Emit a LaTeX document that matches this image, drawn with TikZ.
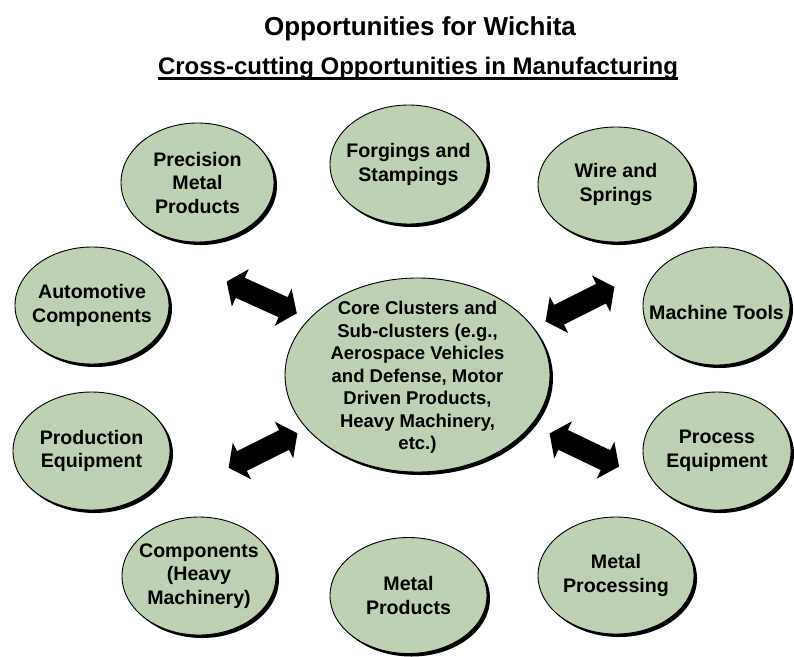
\documentclass[tikz,border=0pt]{standalone}
\usepackage{fontspec}
\setmainfont{Liberation Sans}
\usetikzlibrary{shapes.geometric,shadows}
\definecolor{leaf}{RGB}{190,209,180}
\begin{document}
\begin{tikzpicture}[x=1pt,y=-1pt,
  blob/.style={ellipse, draw=black, line width=0.9pt, fill=leaf, inner sep=0pt,
    drop shadow={fill=black, opacity=1, shadow xshift=3pt, shadow yshift=-3pt}},
  txt/.style={align=center, inner sep=0pt, font=\bfseries\fontsize{19.6}{23.5}\selectfont},
  coretxt/.style={align=center, inner sep=0pt, font=\bfseries\fontsize{18.5}{22.5}\selectfont},
  dblarrow/.pic={\fill[black] (-38.5,0) -- (-23.5,-20.5) -- (-23.5,-11) -- (23.5,-11)
      -- (23.5,-20.5) -- (38.5,0) -- (23.5,20.5) -- (23.5,11) -- (-23.5,11)
      -- (-23.5,20.5) -- cycle;}
]
\useasboundingbox (0,0) rectangle (794,656);

% headings
\node[anchor=base, inner sep=0pt, font=\bfseries\fontsize{26}{31}\selectfont] (title) at (420,35.5) {Opportunities for Wichita};
\node[anchor=base, inner sep=0pt, font=\bfseries\fontsize{24}{29}\selectfont] (sub) at (418,74) {Cross-cutting Opportunities in Manufacturing};
\draw[line width=2.2pt] ([yshift=-4.5pt]sub.base west) -- ([yshift=-4.5pt]sub.base east);

% surrounding clusters
\node[blob, minimum width=153pt, minimum height=119pt] (prec) at (197.5,182.5) {};
\node[txt] (prec-t) at (prec) {Precision\\Metal\\Products};

\node[blob, minimum width=157pt, minimum height=119pt] (forg) at (408.5,164.5) {};
\node[txt] (forg-t) at (forg) {Forgings and\\Stampings};

\node[blob, minimum width=156pt, minimum height=115pt] (wire) at (616,184.5) {};
\node[txt] (wire-t) at (wire) {Wire and\\Springs};

\node[blob, minimum width=154pt, minimum height=117pt] (auto) at (92,305.5) {};
\node[txt] (auto-t) at (auto) {Automotive\\Components};

\node[blob, minimum width=147pt, minimum height=118pt] (mach) at (716.5,306) {};
\node[txt] (mach-t) at (716.5,312) {Machine Tools};

\node[blob, minimum width=157pt, minimum height=118pt] (prod) at (91.5,451) {};
\node[txt] (prod-t) at (prod) {Production\\Equipment};

\node[blob, minimum width=148pt, minimum height=118pt] (proc) at (717,451) {};
\node[txt] (proc-t) at (proc) {Process\\Equipment};

\node[blob, minimum width=154pt, minimum height=118pt] (comp) at (199,576) {};
\node[txt] (comp-t) at (comp) {Components\\(Heavy\\Machinery)};

\node[blob, minimum width=157pt, minimum height=116pt] (mprod) at (408.5,595.5) {};
\node[txt] (mprod-t) at (mprod) {Metal\\Products};

\node[blob, minimum width=156pt, minimum height=117pt] (mproc) at (616,575.5) {};
\node[txt] (mproc-t) at (mproc) {Metal\\Processing};

% core
\node[blob, minimum width=265pt, minimum height=194pt] (core) at (417.5,375) {};
\node[coretxt] (core-t) at (417.5,377.5) {Core Clusters and\\Sub-clusters (e.g.,\\Aerospace Vehicles\\and Defense, Motor\\Driven Products,\\Heavy Machinery,\\etc.)};

% two-way block arrows
\pic[rotate=-24.3] (arrUL) at (261.7,297.5) {dblarrow};
\pic[rotate=26.6] (arrUR) at (580,304.2) {dblarrow};
\pic[rotate=26.6] (arrLL) at (263,450.5) {dblarrow};
\pic[rotate=-25.5] (arrLR) at (584.3,450) {dblarrow};
\end{tikzpicture}
\end{document}
